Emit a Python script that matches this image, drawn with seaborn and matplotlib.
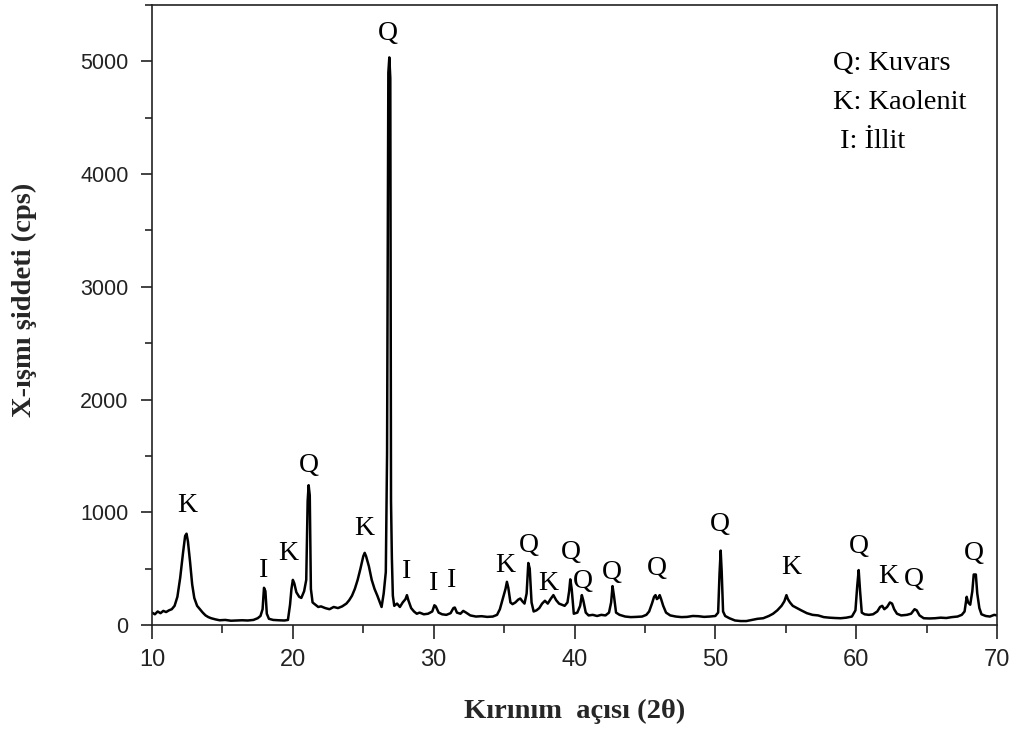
import numpy as np
import pandas as pd
import matplotlib
matplotlib.use('Agg')
import matplotlib.pyplot as plt
import seaborn as sns
from matplotlib.ticker import MultipleLocator

# XRD deseni (okunan değerler)
two_theta = [
    10.0, 10.2, 10.4, 10.6, 10.8, 11.0, 11.2, 11.4, 11.6, 11.8, 12.0, 12.2, 12.35, 12.45, 12.55, 12.7,
    12.85, 13.0, 13.2, 13.4, 13.6, 13.8, 14.0, 14.2, 14.5, 14.8, 15.2, 15.6, 16.0, 16.4, 16.8, 17.2,
    17.5, 17.7, 17.85, 17.95, 18.05, 18.15, 18.3, 18.6, 19.0, 19.4, 19.65, 19.8, 19.9, 20.0, 20.1, 20.25,
    20.45, 20.6, 20.8, 20.95, 21.05, 21.12, 21.2, 21.28, 21.4, 21.6, 21.8, 22.0, 22.3, 22.6, 22.9, 23.2,
    23.5, 23.8, 24.0, 24.2, 24.4, 24.6, 24.8, 25.0, 25.1, 25.2, 25.4, 25.6, 25.8, 26.0, 26.15, 26.3,
    26.45, 26.6, 26.69, 26.78, 26.85, 26.92, 26.97, 27.03, 27.1, 27.2, 27.4, 27.6, 27.8, 28.0, 28.1, 28.2,
    28.4, 28.6, 28.8, 29.0, 29.3, 29.6, 29.9, 30.05, 30.15, 30.35, 30.6, 30.9, 31.2, 31.4, 31.5, 31.65,
    31.9, 32.1, 32.3, 32.6, 33.0, 33.4, 33.8, 34.2, 34.5, 34.7, 34.9, 35.1, 35.2, 35.3, 35.45, 35.6,
    35.8, 36.0, 36.15, 36.3, 36.45, 36.6, 36.72, 36.82, 36.95, 37.1, 37.3, 37.5, 37.7, 37.9, 38.1, 38.3,
    38.5, 38.7, 38.9, 39.1, 39.3, 39.5, 39.62, 39.7, 39.8, 39.95, 40.2, 40.4, 40.52, 40.62, 40.8, 41.0,
    41.3, 41.6, 41.9, 42.2, 42.45, 42.6, 42.7, 42.8, 42.95, 43.2, 43.6, 44.0, 44.4, 44.8, 45.1, 45.3,
    45.5, 45.65, 45.75, 45.85, 45.95, 46.05, 46.15, 46.3, 46.5, 46.8, 47.2, 47.6, 48.0, 48.4, 48.8, 49.2,
    49.6, 50.0, 50.2, 50.3, 50.38, 50.45, 50.55, 50.7, 51.0, 51.4, 51.8, 52.2, 52.6, 53.0, 53.4, 53.8,
    54.1, 54.4, 54.7, 54.9, 55.05, 55.15, 55.3, 55.5, 55.8, 56.1, 56.5, 56.9, 57.3, 57.7, 58.1, 58.5,
    58.9, 59.3, 59.7, 59.95, 60.08, 60.18, 60.28, 60.4, 60.6, 60.9, 61.2, 61.5, 61.7, 61.85, 62.0, 62.2,
    62.4, 62.55, 62.7, 62.9, 63.2, 63.6, 63.9, 64.15, 64.3, 64.5, 64.8, 65.2, 65.6, 66.0, 66.4, 66.8,
    67.2, 67.5, 67.7, 67.85, 67.95, 68.1, 68.25, 68.35, 68.5, 68.6, 68.75, 68.9, 69.2, 69.5, 69.8, 70.0,
]
intensity = [
    110, 95, 120, 105, 125, 115, 130, 140, 170, 250, 420, 640, 790, 810, 740, 560,
    360, 240, 170, 140, 110, 85, 70, 60, 50, 42, 45, 38, 40, 42, 40, 45,
    60, 80, 140, 330, 300, 100, 55, 45, 42, 40, 45, 180, 320, 400, 370, 290,
    250, 240, 300, 400, 1100, 1240, 1150, 320, 200, 180, 160, 165, 150, 140, 160, 150,
    165, 190, 220, 260, 320, 400, 500, 610, 640, 610, 520, 400, 320, 260, 210, 160,
    280, 470, 1520, 4900, 5035, 4850, 1100, 600, 260, 170, 190, 160, 200, 230, 265, 220,
    150, 120, 100, 110, 95, 100, 120, 175, 165, 110, 95, 90, 105, 150, 155, 110,
    100, 125, 110, 85, 75, 78, 72, 75, 90, 140, 230, 320, 383, 330, 200, 185,
    200, 225, 235, 210, 190, 280, 550, 500, 200, 120, 130, 150, 190, 215, 190, 230,
    265, 220, 190, 180, 170, 200, 300, 405, 320, 100, 110, 170, 265, 220, 110, 85,
    90, 80, 90, 85, 110, 200, 345, 260, 110, 90, 75, 70, 72, 75, 90, 120,
    190, 250, 265, 230, 240, 265, 230, 170, 110, 85, 75, 70, 72, 80, 78, 72,
    75, 80, 110, 460, 660, 480, 120, 80, 60, 40, 35, 35, 45, 55, 60, 80,
    100, 130, 170, 210, 265, 230, 200, 170, 150, 130, 105, 90, 85, 70, 65, 62,
    60, 65, 75, 130, 350, 487, 300, 110, 95, 90, 95, 120, 160, 170, 140, 160,
    200, 190, 140, 100, 85, 90, 100, 140, 130, 85, 60, 58, 60, 65, 62, 70,
    75, 90, 120, 250, 200, 180, 300, 448, 448, 280, 150, 95, 80, 75, 90, 85,
]

# pik etiketleri
peak_labels = ['K', 'I', 'K', 'Q', 'K', 'Q', 'I', 'I', 'I', 'K', 'Q', 'K', 'Q', 'Q',
               'Q', 'Q', 'Q', 'K', 'Q', 'K', 'Q', 'Q']
peak_label_x = [12.5, 17.95, 19.66, 21.15, 25.06, 26.76, 28.1, 29.96, 31.24, 35.07, 36.77, 38.1,
                39.76, 40.6, 42.67, 45.87, 50.34, 55.38, 60.21, 62.27, 64.12, 68.38]
peak_label_y = [1062, 487, 637, 1416, 858, 5248, 478, 372, 398, 531, 708, 372,
                646, 389, 469, 504, 894, 513, 699, 434, 407, 637]

legend_lines = ['Q: Kuvars', 'K: Kaolenit', ' I: İllit']

df = pd.DataFrame({'2theta': two_theta, 'cps': intensity})

sns.set_style('ticks')
serif = ['Liberation Serif', 'DejaVu Serif']
sans_narrow = ['Liberation Sans Narrow', 'Liberation Sans', 'DejaVu Sans']
plt.rcParams['font.family'] = ['Liberation Sans', 'DejaVu Sans']

fig = plt.figure(figsize=(10.17, 7.34), dpi=100)
ax = fig.add_axes([0.1495, 0.1485, 0.8308, 0.8447])

sns.lineplot(data=df, x='2theta', y='cps', color='black', linewidth=1.8, ax=ax)

ax.set_xlim(10, 70)
ax.set_ylim(0, 5500)
ax.xaxis.set_major_locator(MultipleLocator(10))
ax.xaxis.set_minor_locator(MultipleLocator(5))
ax.yaxis.set_major_locator(MultipleLocator(1000))
ax.yaxis.set_minor_locator(MultipleLocator(500))

for s in ax.spines.values():
    s.set_linewidth(1.2)
    s.set_color('#222222')

ax.tick_params(axis='y', which='major', direction='out', length=8, width=1.2, pad=9,
               labelsize=15.5, colors='#222222')
ax.tick_params(axis='y', which='minor', direction='out', length=5, width=1.2)
ax.tick_params(axis='x', which='major', direction='out', length=10, width=1.2, pad=7,
               labelsize=17, colors='#222222')
ax.tick_params(axis='x', which='minor', direction='out', length=6, width=1.2)
for lab in ax.get_xticklabels():
    lab.set_family(sans_narrow)

ax.set_xlabel('Kırınım  açısı (2θ)', family=serif, fontsize=20.5, fontweight='bold', labelpad=20)
ax.set_ylabel('X-ışmı şiddeti (cps)', family=serif, fontsize=20.5, fontweight='bold')
ax.yaxis.set_label_coords(-0.136, 0.524)

for lab, x, y in zip(peak_labels, peak_label_x, peak_label_y):
    ax.text(x, y, lab, family=serif, fontsize=20, ha='center', va='center', color='black')

for i, line in enumerate(legend_lines):
    ax.text(0.806, 0.905 - i * 0.0625, line, transform=ax.transAxes, family=serif,
            fontsize=20.5, ha='left', va='center', color='black')

plt.savefig('out.png', dpi=100)
